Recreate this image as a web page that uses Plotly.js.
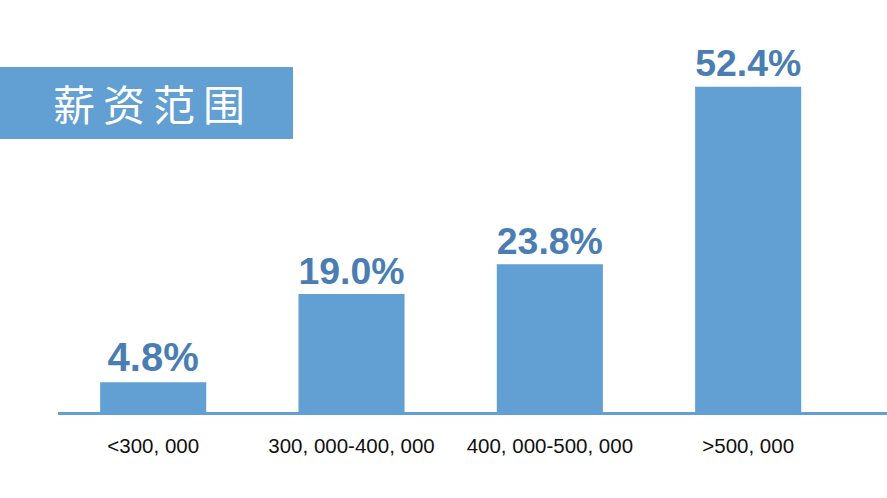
<!DOCTYPE html>
<html>
<head>
<meta charset="utf-8">
<script src="https://cdn.plot.ly/plotly-3.0.1.min.js"></script>
<style>
  html, body { margin: 0; padding: 0; background: #ffffff; }
  #chart { width: 887px; height: 498px; }
</style>
</head>
<body>
<div id="chart"></div>
<script>
// Salary bands and the share of respondents in each
const categories = ['<300, 000', '300, 000-400, 000', '400, 000-500, 000', '>500, 000'];
const shares = [4.8, 19.0, 23.8, 52.4];
const chartTitle = '薪资范围';

const barColor = '#629fd3';
const labelColor = '#4a7eb3';

const trace = {
  type: 'bar',
  x: categories,
  y: shares,
  marker: { color: barColor, line: { width: 0 } },
  text: shares.map(v => v.toFixed(1) + '%'),
  textposition: 'outside',
  texttemplate: '%{text}',
  textfont: { family: 'Liberation Sans, Arial, sans-serif', size: 40, color: labelColor, weight: 'bold' },
  cliponaxis: false,
  hoverinfo: 'skip'
};

const layout = {
  width: 887,
  height: 498,
  margin: { l: 58, r: 0, t: 0, b: 86 },
  paper_bgcolor: '#ffffff',
  plot_bgcolor: '#ffffff',
  showlegend: false,
  bargap: 0.465,
  xaxis: {
    type: 'category',
    range: [-0.48, 3.70],
    showgrid: false,
    zeroline: false,
    showline: true,
    linecolor: barColor,
    linewidth: 3,
    ticks: 'outside',
    ticklen: 13,
    tickcolor: 'rgba(0,0,0,0)',
    tickfont: { family: 'Liberation Sans, Arial, sans-serif', size: 20.5, color: '#111111' },
    fixedrange: true
  },
  yaxis: {
    range: [0, 66.4],
    visible: false,
    showgrid: false,
    zeroline: false,
    fixedrange: true
  },
  shapes: [{
    type: 'rect', xref: 'paper', yref: 'paper',
    x0: -58 / 829, x1: 235 / 829,
    y0: (412 - 139) / 412, y1: (412 - 67) / 412,
    fillcolor: barColor, line: { width: 0 }, layer: 'above'
  }],
  annotations: [{
    xref: 'paper', yref: 'paper',
    x: 94.5 / 829, y: (412 - 102) / 412,
    xanchor: 'center', yanchor: 'middle',
    text: chartTitle,
    showarrow: false,
    font: { family: 'Noto Sans CJK SC, sans-serif', size: 42, color: '#ffffff' }
  }]
};

Plotly.newPlot('chart', [trace], layout, { displayModeBar: false, staticPlot: true }).then(gd => {
  // open up the spacing between the title characters
  gd.querySelectorAll('.annotation-text').forEach(t => {
    t.style.letterSpacing = '8px';
  });
});
</script>
</body>
</html>
